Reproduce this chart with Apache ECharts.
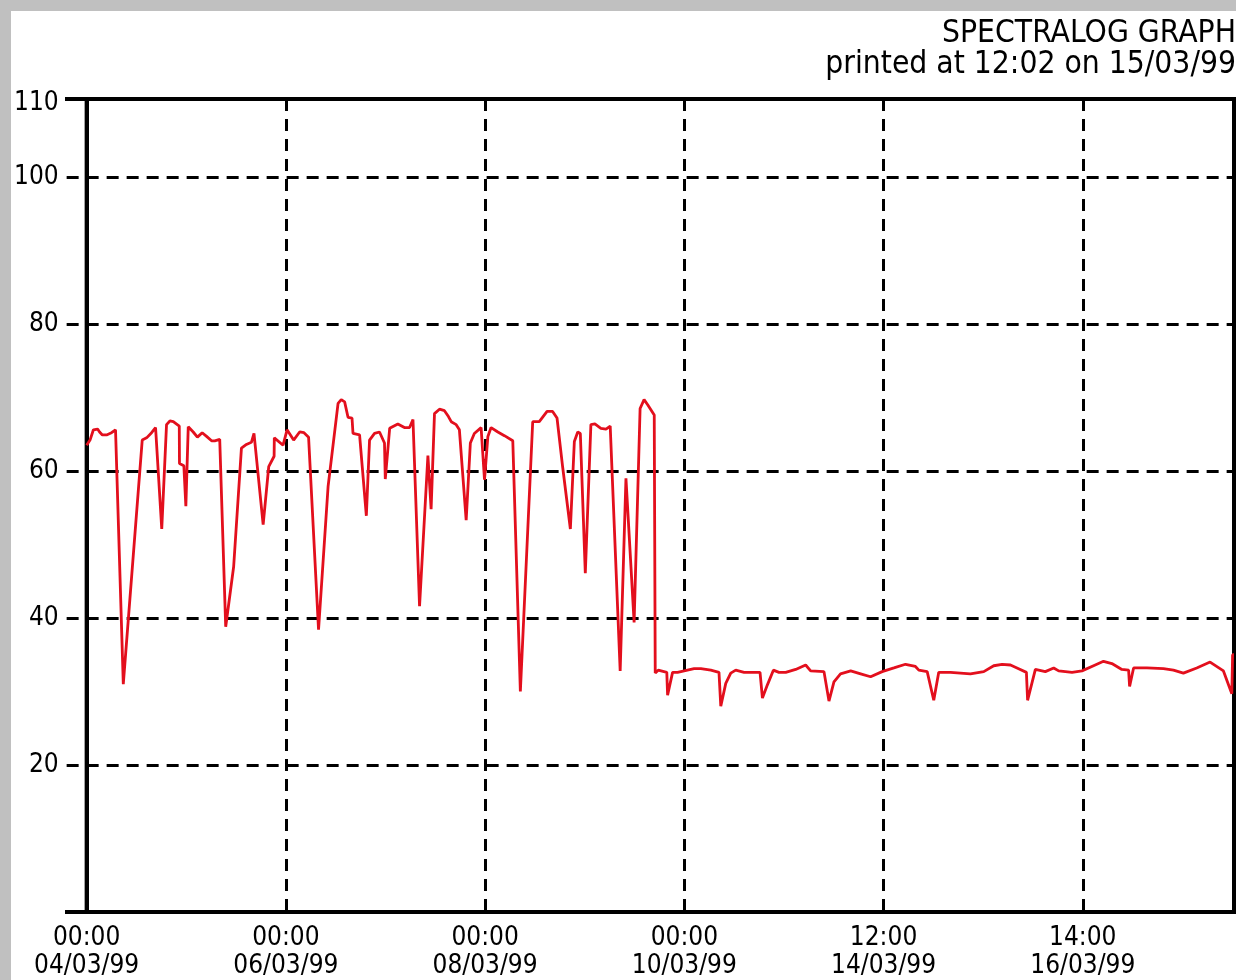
<!DOCTYPE html>
<html>
<head>
<meta charset="utf-8">
<script src="https://cdn.jsdelivr.net/npm/echarts@6/dist/echarts.min.js"></script>
<style>
  html, body { margin: 0; padding: 0; background: #c0c0c0; width: 1236px; height: 980px; overflow: hidden; }
  #chart { position: absolute; left: 11px; top: 11px; width: 1225px; height: 969px; background: #ffffff; }
</style>
</head>
<body>
<div id="chart"></div>
<script>
// Title text
const titleLines = ['SPECTRALOG GRAPH', 'printed at 12:02 on 15/03/99'];

// X tick labels (tick index 0..5)
const tickTimes = ['00:00', '00:00', '00:00', '00:00', '12:00', '14:00'];
const tickDates = ['04/03/99', '06/03/99', '08/03/99', '10/03/99', '14/03/99', '16/03/99'];

// Y axis: top of the frame sits slightly above the 110 mark
const Y_TOP = 110.6;
const yGridValues = [20, 40, 60, 80, 100];
const yLabelValues = [20, 40, 60, 80, 100, 110];

// Sample positions along the x axis (in tick units) and readings
const samplePos = [0.000,0.017,0.034,0.055,0.065,0.079,0.100,0.125,0.145,0.184,
0.279,0.301,0.326,0.346,0.377,0.401,0.418,0.435,0.465,0.466,
0.488,0.498,0.510,0.535,0.556,0.580,0.602,0.627,0.643,0.668,
0.698,0.738,0.777,0.802,0.827,0.835,0.840,0.886,0.914,0.941,
0.942,0.986,1.006,1.039,1.069,1.091,1.114,1.164,1.212,1.262,
1.278,1.295,1.312,1.332,1.337,1.370,1.404,1.420,1.445,1.470,
1.495,1.499,1.521,1.562,1.595,1.621,1.638,1.671,1.713,1.729,
1.746,1.771,1.796,1.816,1.830,1.855,1.871,1.905,1.926,1.946,
1.980,1.997,2.014,2.030,2.064,2.097,2.139,2.177,2.239,2.272,
2.311,2.339,2.361,2.389,2.428,2.448,2.465,2.478,2.503,2.531,
2.551,2.581,2.607,2.628,2.678,2.707,2.748,2.778,2.798,2.816,
2.849,2.854,2.869,2.912,2.916,2.941,2.966,2.999,3.049,3.083,
3.133,3.174,3.183,3.208,3.233,3.258,3.300,3.350,3.380,3.392,
3.417,3.447,3.475,3.509,3.559,3.609,3.634,3.701,3.726,3.751,
3.784,3.835,3.885,3.935,3.993,4.052,4.110,4.160,4.177,4.219,
4.252,4.277,4.336,4.436,4.503,4.553,4.595,4.637,4.678,4.717,
4.723,4.762,4.812,4.854,4.879,4.946,4.996,5.054,5.104,5.146,
5.196,5.230,5.235,5.255,5.322,5.405,5.455,5.505,5.572,5.639,
5.706,5.748,5.752,5.759];

const readings = [63.5,64.2,65.6,65.7,65.3,64.9,64.9,65.2,65.6,31.0,
64.2,64.5,65.2,65.9,52.1,66.3,66.8,66.7,66.1,61.0,
60.7,55.2,66.0,65.3,64.6,65.2,64.7,64.1,64.1,64.3,
38.8,47.0,63.1,63.6,63.9,63.9,65.1,52.7,60.6,62.0,
64.5,63.5,65.6,64.2,65.3,65.2,64.6,38.4,57.9,69.2,
69.7,69.4,67.3,67.2,65.1,64.9,53.9,64.2,65.1,65.3,
63.8,58.9,65.8,66.4,65.9,65.9,67.0,41.6,62.1,54.8,
67.8,68.4,68.2,67.4,66.7,66.3,65.6,53.3,63.8,65.1,
65.9,58.8,64.7,65.9,65.3,64.8,64.1,30.0,66.7,66.7,
68.1,68.1,67.2,60.6,52.1,64.0,65.3,65.1,46.1,66.3,
66.4,65.8,65.7,66.1,32.8,59.0,39.4,68.5,69.7,69.0,
67.6,32.5,32.9,32.6,29.5,32.6,32.6,32.8,33.1,33.1,
32.9,32.6,28.0,31.1,32.5,32.9,32.6,32.6,32.6,29.1,
30.9,32.9,32.6,32.6,33.0,33.6,32.8,32.7,28.7,31.3,
32.4,32.8,32.4,32.0,32.7,33.2,33.7,33.4,32.9,32.7,
28.8,32.6,32.6,32.4,32.7,33.5,33.7,33.6,33.1,32.6,
28.8,33.0,32.7,33.2,32.8,32.6,32.8,33.5,34.1,33.8,
33.0,32.9,30.7,33.2,33.2,33.1,32.9,32.5,33.2,34.0,
32.8,29.7,35.0,35.0];

const FONT = "'DejaVu Sans Condensed', 'DejaVu Sans', sans-serif";
const X_MAX = 5.759;

const seriesData = samplePos.map((p, i) => [p, readings[i]]);

const chart = echarts.init(document.getElementById('chart'), null, { renderer: 'canvas' });
chart.setOption({
  animation: false,
  backgroundColor: '#ffffff',
  title: {
    text: titleLines.join('\n'),
    left: 'right',
    top: 7,
    padding: 0,
    textStyle: { fontFamily: FONT, fontSize: 31.5, fontWeight: 'normal', color: '#000', lineHeight: 31 }
  },
  grid: [
    { left: 74, top: 88, right: 2, bottom: 68, show: true, borderColor: '#000', borderWidth: 4 },
    { left: 54, top: 88, width: 20, bottom: 68, show: false }
  ],
  xAxis: [
    {
      type: 'value', gridIndex: 0, min: 0, max: X_MAX, interval: 1,
      axisLine: { show: true, onZero: false, lineStyle: { color: '#000', width: 4 } },
      axisTick: { show: false },
      axisLabel: {
        show: true, margin: 12, color: '#000', fontFamily: FONT, fontSize: 26, lineHeight: 28,
        showMaxLabel: false, showMinLabel: true,
        formatter: function (v) {
          const i = Math.round(v);
          if (Math.abs(v - i) > 1e-6 || i < 0 || i >= tickTimes.length) return '';
          return tickTimes[i] + '\n' + tickDates[i];
        }
      },
      splitLine: { show: true, lineStyle: { color: '#000', width: 3, type: [12, 8] } }
    },
    {
      type: 'value', gridIndex: 1, min: 0, max: 1, show: false,
      splitLine: { show: false }
    }
  ],
  yAxis: [
    {
      type: 'value', gridIndex: 0, min: 0, max: Y_TOP, interval: 20,
      axisLine: { show: true, lineStyle: { color: '#000', width: 4 } },
      axisTick: {
        show: true, inside: false, length: 20, customValues: yGridValues,
        lineStyle: { color: '#000', width: 3, type: [12, 8], dashOffset: 12 }
      },
      axisLabel: {
        show: true, customValues: yLabelValues, margin: 28, color: '#000',
        fontFamily: FONT, fontSize: 26
      },
      splitLine: { show: true, lineStyle: { color: '#000', width: 3, type: [12, 8] } }
    },
    {
      type: 'value', gridIndex: 1, min: 0, max: Y_TOP, interval: Y_TOP,
      axisLine: { show: false }, axisTick: { show: false }, axisLabel: { show: false },
      splitLine: { show: true, lineStyle: { color: '#000', width: 4 } }
    }
  ],
  series: [
    {
      type: 'line', xAxisIndex: 0, yAxisIndex: 0,
      data: seriesData, showSymbol: false, symbol: 'none', smooth: false,
      clip: false,
      lineStyle: { color: '#e30f1d', width: 2.8 },
      z: 5
    }
  ]
});
</script>
</body>
</html>
